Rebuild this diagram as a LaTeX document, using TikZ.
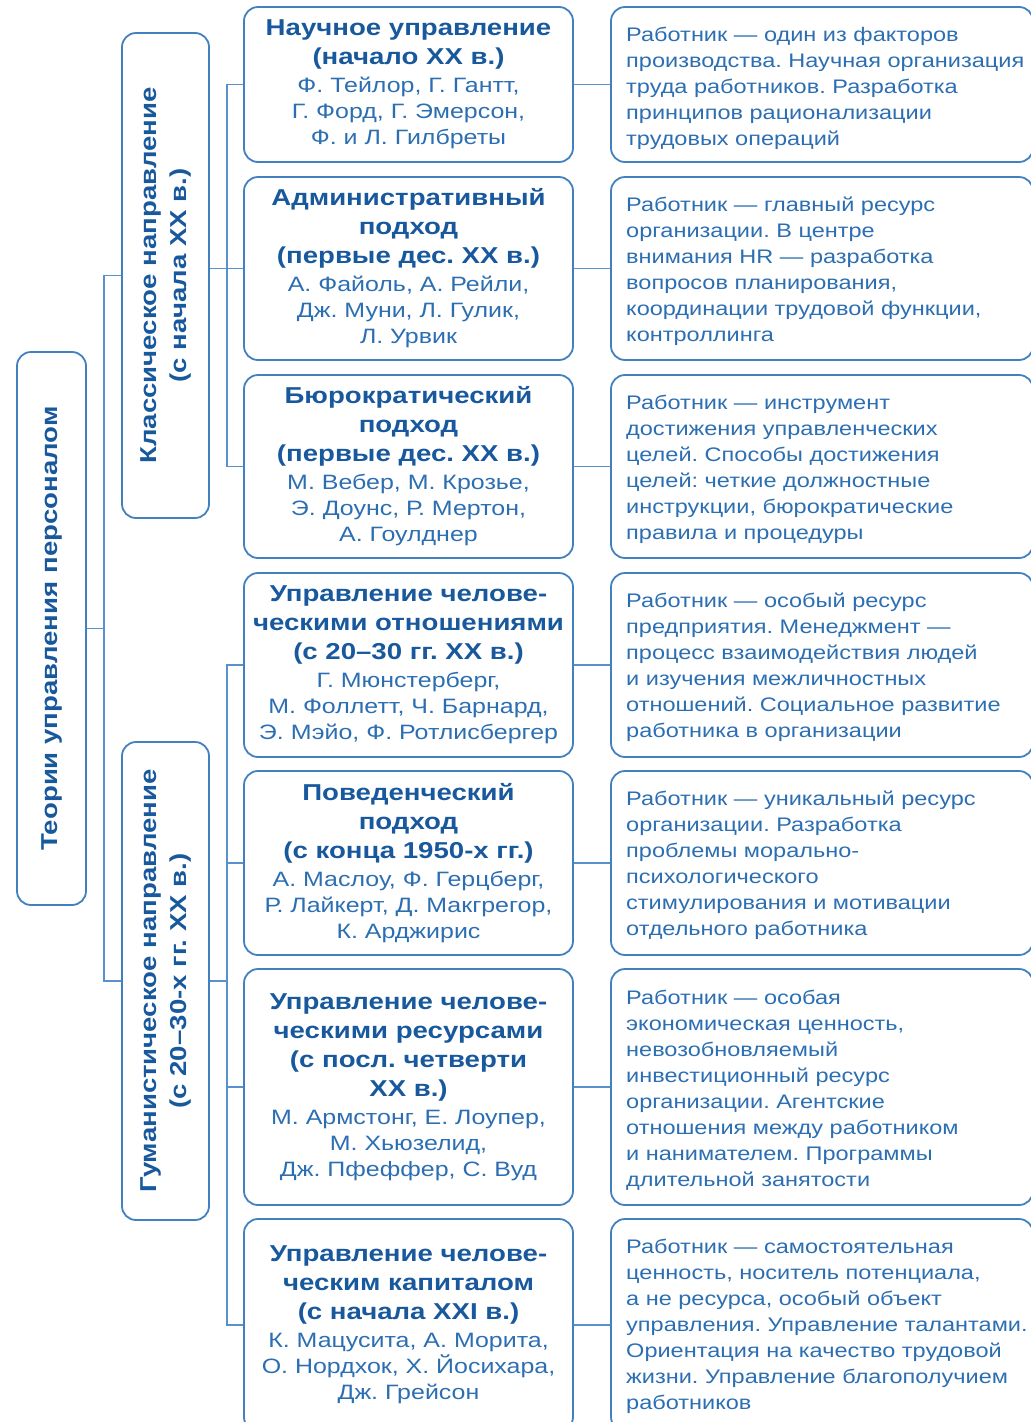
\documentclass[tikz,border=0pt]{standalone}
\usepackage{fontspec}
\setmainfont{Liberation Sans}[FakeStretch=1.2]
\frenchspacing
\definecolor{headcol}{RGB}{24,88,156}
\definecolor{namecol}{RGB}{44,110,178}
\definecolor{bordercol}{RGB}{66,128,192}
\definecolor{linecol}{RGB}{88,146,204}
\newcommand{\mhead}[1]{{\color{headcol}\bfseries\fontsize{23}{29}\selectfont #1\par}\vspace{2pt}}
\newcommand{\mnames}[1]{{\color{namecol}\fontsize{20.8}{26}\selectfont #1\par}}
\tikzset{
  boxshape/.style={draw=bordercol, line width=1.8pt, rounded corners=14pt, inner sep=0pt},
  midbox/.style={boxshape, minimum width=329pt},
  rightbox/.style={boxshape, minimum width=422pt},
  midtext/.style={text width=360pt, align=flush center, inner sep=0pt},
  righttext/.style={anchor=west, text width=440pt, align=flush left, inner sep=0pt, text=namecol,
    font=\fontsize{19.6}{26}\selectfont},
  vtext/.style={rotate=90, align=center, inner sep=0pt, text=headcol,
    font=\bfseries\fontsize{23}{30}\selectfont},
  conn/.style={draw=linecol, line width=1.4pt},
}
\begin{document}
\begin{tikzpicture}[x=1pt, y=-1pt]
\useasboundingbox (0,0) rectangle (1031,1422);
% left column
\node[boxshape, minimum width=69pt, minimum height=553pt] (root) at (51.5,628.5) {};
\node[vtext] (roottext) at (root.center) {Теории управления персоналом};
\node[boxshape, minimum width=87pt, minimum height=485pt] (cl) at (165.5,275.5) {};
\node[vtext] (cltext) at (cl.center) {Классическое направление\\(с начала XX в.)};
\node[boxshape, minimum width=87pt, minimum height=478pt] (hum) at (165.5,981) {};
\node[vtext] (humtext) at (hum.center) {Гуманистическое направление\\(с 20–30-х гг. XX в.)};
% middle column
\node[midbox, minimum height=155pt] (m1) at (408.5,84.5) {};
\node[midbox, minimum height=183pt] (m2) at (408.5,268.5) {};
\node[midbox, minimum height=183pt] (m3) at (408.5,466.5) {};
\node[midbox, minimum height=184pt] (m4) at (408.5,665) {};
\node[midbox, minimum height=184pt] (m5) at (408.5,863) {};
\node[midbox, minimum height=236pt] (m6) at (408.5,1087) {};
\node[midbox, minimum height=212pt] (m7) at (408.5,1325) {};
\node[midtext] (t1) at (m1.center) {\mhead{Научное управление\\(начало XX в.)}\mnames{Ф. Тейлор, Г. Гантт,\\Г. Форд, Г. Эмерсон,\\Ф. и Л. Гилбреты}};
\node[midtext] (t2) at (m2.center) {\mhead{Административный\\подход\\(первые дес. XX в.)}\mnames{А. Файоль, А. Рейли,\\Дж. Муни, Л. Гулик,\\Л. Урвик}};
\node[midtext] (t3) at (m3.center) {\mhead{Бюрократический\\подход\\(первые дес. XX в.)}\mnames{М. Вебер, М. Крозье,\\Э. Доунс, Р. Мертон,\\А. Гоулднер}};
\node[midtext] (t4) at (m4.center) {\mhead{Управление челове-\\ческими отношениями\\(с 20–30 гг. XX в.)}\mnames{Г. Мюнстерберг,\\М. Фоллетт, Ч. Барнард,\\Э. Мэйо, Ф. Ротлисбергер}};
\node[midtext] (t5) at (m5.center) {\mhead{Поведенческий\\подход\\(с конца 1950-х гг.)}\mnames{А. Маслоу, Ф. Герцберг,\\Р. Лайкерт, Д. Макгрегор,\\К. Арджирис}};
\node[midtext] (t6) at (m6.center) {\mhead{Управление челове-\\ческими ресурсами\\(с посл. четверти\\XX в.)}\mnames{М. Армстонг, Е. Лоупер,\\М. Хьюзелид,\\Дж. Пфеффер, С. Вуд}};
\node[midtext] (t7) at (m7.center) {\mhead{Управление челове-\\ческим капиталом\\(с начала XXI в.)}\mnames{К. Мацусита, А. Морита,\\О. Нордхок, Х. Йосихара,\\Дж. Грейсон}};
% right column
\node[rightbox, minimum height=155pt] (r1) at (822,84.5) {};
\node[rightbox, minimum height=183pt] (r2) at (822,268.5) {};
\node[rightbox, minimum height=183pt] (r3) at (822,466.5) {};
\node[rightbox, minimum height=184pt] (r4) at (822,665) {};
\node[rightbox, minimum height=184pt] (r5) at (822,863) {};
\node[rightbox, minimum height=236pt] (r6) at (822,1087) {};
\node[rightbox, minimum height=212pt] (r7) at (822,1325) {};
\node[righttext] (q1) at (626,88) {Работник — один из факторов\\производства. Научная организация\\труда работников. Разработка\\принципов рационализации\\трудовых операций};
\node[righttext] (q2) at (626,271) {Работник — главный ресурс\\организации. В центре\\внимания HR — разработка\\вопросов планирования,\\координации трудовой функции,\\контроллинга};
\node[righttext] (q3) at (626,469) {Работник — инструмент\\достижения управленческих\\целей. Способы достижения\\целей: четкие должностные\\инструкции, бюрократические\\правила и процедуры};
\node[righttext] (q4) at (626,667) {Работник — особый ресурс\\предприятия. Менеджмент —\\процесс взаимодействия людей\\и изучения межличностных\\отношений. Социальное развитие\\работника в организации};
\node[righttext] (q5) at (626,865) {Работник — уникальный ресурс\\организации. Разработка\\проблемы морально-\\психологического\\стимулирования и мотивации\\отдельного работника};
\node[righttext] (q6) at (626,1090) {Работник — особая\\экономическая ценность,\\невозобновляемый\\инвестиционный ресурс\\организации. Агентские\\отношения между работником\\и нанимателем. Программы\\длительной занятости};
\node[righttext] (q7) at (626,1326) {Работник — самостоятельная\\ценность, носитель потенциала,\\а не ресурса, особый объект\\управления. Управление талантами.\\Ориентация на качество трудовой\\жизни. Управление благополучием\\работников};
% connectors
\coordinate (rj) at (104,628.5);
\coordinate (cj) at (227,268.5);
\coordinate (hj) at (227,981);
\draw[conn] (root.east) -- (rj);
\draw[conn] (cl.west) -| (rj);
\draw[conn] (hum.west) -| (rj);
\draw[conn] (cl.east |- m2.west) -- (m2.west);
\draw[conn] (m1.west) -| (cj);
\draw[conn] (m3.west) -| (cj);
\draw[conn] (hum.east) -- (hj);
\draw[conn] (m4.west) -| (hj);
\draw[conn] (m5.west) -| (hj);
\draw[conn] (m6.west) -| (hj);
\draw[conn] (m7.west) -| (hj);
\draw[conn] (m1.east) -- (r1.west);
\draw[conn] (m2.east) -- (r2.west);
\draw[conn] (m3.east) -- (r3.west);
\draw[conn] (m4.east) -- (r4.west);
\draw[conn] (m5.east) -- (r5.west);
\draw[conn] (m6.east) -- (r6.west);
\draw[conn] (m7.east) -- (r7.west);
\end{tikzpicture}
\end{document}
